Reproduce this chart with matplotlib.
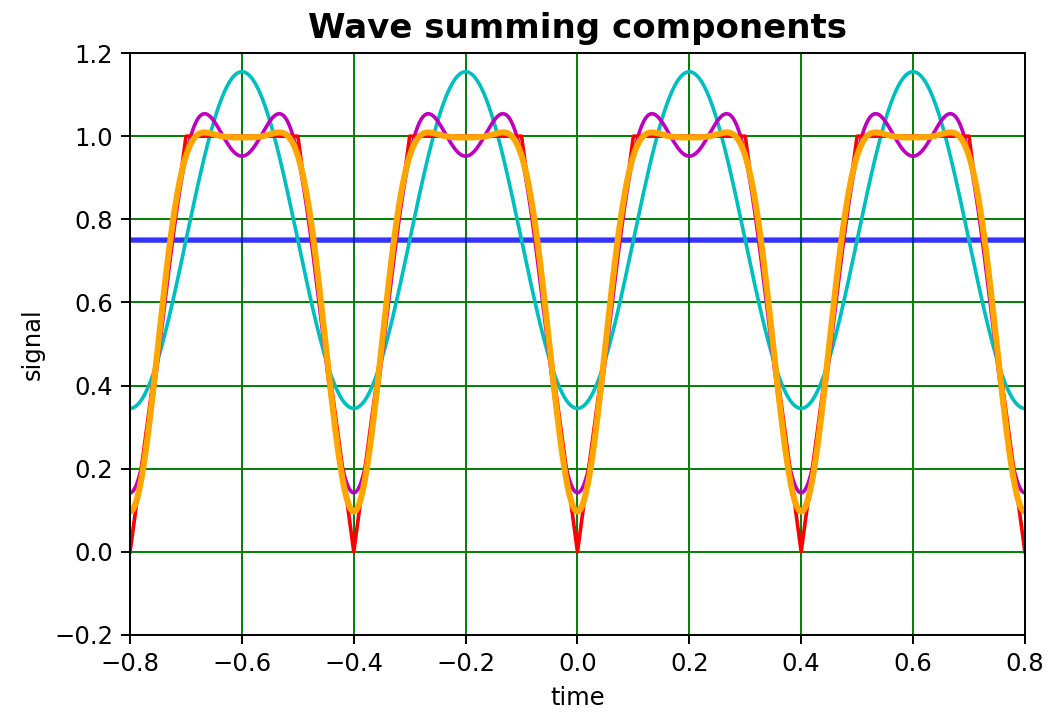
import numpy as np
import matplotlib
matplotlib.use("Agg")
import matplotlib.pyplot as plt

# period of the wave and its mean level (blue line)
period = 0.4
mean_level = 0.75
# cosine coefficients read from the partial sums (n = 1, 2, 3)
harmonic_coefs = [-0.405, -0.203, -0.045]
partial_colors = ["c", "m", "orange"]

# trapezoid corner points (red target wave)
trap_t = [-0.8, -0.7, -0.5, -0.4, -0.3, -0.1, 0.0, 0.1, 0.3, 0.4, 0.5, 0.7, 0.8]
trap_y = [0, 1, 1, 0, 1, 1, 0, 1, 1, 0, 1, 1, 0]

xticks = [-0.8, -0.6, -0.4, -0.2, 0.0, 0.2, 0.4, 0.6, 0.8]
yticks = [-0.2, 0.0, 0.2, 0.4, 0.6, 0.8, 1.0, 1.2]

t = np.linspace(-0.8, 0.8, 1601)

fig = plt.figure(figsize=(1049 / 175, 717 / 175), dpi=175)
ax = fig.add_axes([0.124, 0.1145, 0.853, 0.8115])

ax.plot(t, np.full_like(t, mean_level), color="b", lw=2.2, alpha=0.8)

signal = np.full_like(t, mean_level)
partials = []
for n, a in enumerate(harmonic_coefs, start=1):
    signal = signal + a * np.cos(2 * np.pi * n * t / period)
    partials.append(signal.copy())

ax.plot(t, partials[0], color=partial_colors[0], lw=1.5)
ax.plot(t, partials[1], color=partial_colors[1], lw=1.5)
ax.plot(trap_t, trap_y, color="r", lw=1.5)
ax.plot(t, partials[2], color=partial_colors[2], lw=2.5)

ax.set_xlim(-0.8, 0.8)
ax.set_ylim(-0.2, 1.2)
ax.set_xticks(xticks)
ax.set_yticks(yticks)
ax.grid(True, color="g", lw=0.8)
ax.set_xlabel("time")
ax.set_ylabel("signal")
ax.set_title("Wave summing components", fontsize=14, fontweight="bold")

fig.savefig("out.png", dpi=175)
